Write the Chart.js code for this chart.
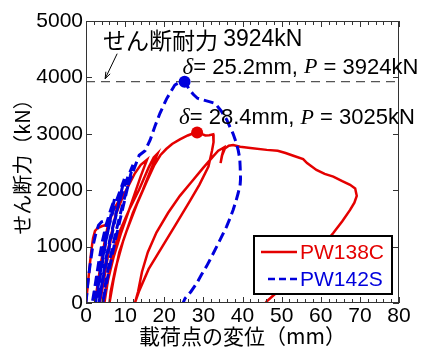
<!DOCTYPE html>
<html>
<head>
<meta charset="utf-8">
<script src="https://cdn.jsdelivr.net/npm/chart.js@4.4.1/dist/chart.umd.min.js"></script>
<style>
  html, body { margin: 0; padding: 0; background: #fff; }
  #wrap { width: 422px; height: 347px; }
</style>
</head>
<body>
<div id="wrap"><canvas id="shear-chart" width="422" height="347"></canvas></div>
<script>
// PW138C (solid red) - displacement mm / load kN
const pw138cX = [0, 0.5, 1.0, 1.4, 1.8, 2.3, 3.0, 4.0, 4.9, 5.8,
  4.8, 3.8, 2.8, 2.3,
  3.0, 3.8, 4.8, 5.8, 7.0, 8.3,
  7.2, 6.0, 4.8, 3.8, 3.5,
  4.2, 5.2, 6.4, 7.8, 9.5, 11.0, 12.5, 14.0, 15.6,
  14.0, 11.5, 9.0, 7.0, 5.6, 4.7,
  5.2, 6.5, 8.5, 11.0, 13.5, 16.0, 17.3, 18.3,
  16.5, 14.5, 12.0, 9.5, 7.5, 6.3, 6.0,
  7.0, 8.5, 10.5, 13.0, 15.5, 17.5, 19.0, 20.5, 22.0, 24.0, 26.0, 27.5, 28.4, 29.5, 30.5, 31.5, 32.5,
  32.6, 32.2, 31.3,
  29.0, 26.5, 23.0, 19.5, 16.0, 13.5, 12.5,
  13.3, 14.3, 15.8, 18.0, 21.0, 24.0, 27.0, 30.0, 32.5, 33.8, 34.8, 35.3,
  34.7, 34.4, 34.8, 35.5, 36.5, 37.6,
  39.4, 42.0, 46.2, 49.0, 51.0, 53.0, 55.5, 56.5, 58.9, 61.0, 63.2, 65.5, 67.5, 68.8, 69.2,
  68.6, 67.5, 65.5, 63.2, 61.0, 58.9, 56.5, 54.7, 52.5, 50.4, 48.3, 46.2, 45.3];
const pw138cY = [0, 350, 700, 950, 1150, 1280, 1330, 1360, 1380, 1450,
  1100, 700, 250, 0,
  300, 700, 1100, 1400, 1650, 1800,
  1450, 1000, 500, 100, 0,
  350, 800, 1200, 1600, 1900, 2100, 2300, 2450, 2540,
  2250, 1750, 1250, 800, 400, 0,
  300, 800, 1250, 1650, 2000, 2400, 2580, 2650,
  2350, 2000, 1600, 1100, 600, 200, 0,
  400, 900, 1300, 1750, 2150, 2450, 2620, 2730, 2820, 2900, 2970, 3010, 3025, 3000, 2970, 2975, 2990,
  2850, 2700, 2420,
  2100, 1800, 1400, 1000, 600, 200, 0,
  200, 550, 900, 1250, 1600, 1900, 2150, 2400, 2600, 2700, 2740, 2760,
  2600, 2480, 2620, 2740, 2790, 2800,
  2770, 2750, 2715, 2700, 2660, 2610, 2550, 2480, 2360, 2290, 2240, 2160, 2095, 2030, 1900,
  1780, 1650, 1450, 1240, 1060, 880, 720, 590, 440, 295, 160, 30, -60];

// PW142S (dashed blue)
const pw142sX = [0, 0.4, 0.9, 1.6, 2.4, 3.2, 4.0, 5.0, 5.8,
  4.8, 3.6, 2.4, 1.6,
  2.3, 3.2, 4.2, 5.2, 6.3, 7.3,
  6.2, 5.0, 3.8, 2.8, 2.4,
  3.0, 3.9, 4.9, 6.0, 7.2, 8.5, 9.8,
  8.6, 7.2, 5.8, 4.4, 3.3,
  4.0, 5.0, 6.2, 7.5, 9.0, 10.5, 12.0,
  10.8, 9.3, 7.6, 5.8, 4.3,
  5.0, 6.2, 7.6, 9.2, 10.8, 12.4, 13.6, 15.1, 16.4, 17.6, 18.9, 20.6, 22.7, 24.0, 25.2,
  26.3, 27.4, 28.5, 30.0, 31.5, 33.0, 34.6, 36.0, 36.8, 37.6, 38.3, 38.9, 39.3, 39.4, 39.5, 39.4,
  38.9, 38.3, 37.6, 36.8, 35.9, 34.7, 33.4, 32.1, 30.8, 29.5, 28.3, 26.8, 25.3, 24.8];
const pw142sY = [0, 300, 600, 950, 1200, 1380, 1440, 1460, 1500,
  1150, 700, 250, 0,
  300, 700, 1100, 1400, 1650, 1850,
  1500, 1050, 550, 100, 0,
  250, 650, 1050, 1400, 1700, 1950, 2200,
  1850, 1400, 950, 450, 0,
  300, 750, 1150, 1550, 1900, 2200, 2450,
  2100, 1650, 1150, 550, 0,
  350, 800, 1250, 1700, 2100, 2400, 2620, 2700, 2890, 3130, 3364, 3620, 3865, 3915, 3924,
  3800, 3700, 3630, 3600, 3570, 3540, 3400, 3245, 3120, 3000, 2860, 2710, 2560, 2420, 2200, 2100,
  1950, 1800, 1650, 1500, 1350, 1180, 1000, 820, 650, 500, 350, 200, 80, 0];

// shear capacity and peak points
const shearCapacity = 3924;
const peakX = [25.2, 28.4];
const peakY = [3924, 3025];
const seriesNames = ['PW138C', 'PW142S'];
const xTickValues = [0, 10, 20, 30, 40, 50, 60, 70, 80];
const yTickValues = [0, 1000, 2000, 3000, 4000, 5000];

const RED = 'rgb(228, 0, 0)';
const BLUE = 'rgb(0, 0, 220)';
const SANS = '"Liberation Sans", Arial, sans-serif';
const SERIF = '"Liberation Serif", "Times New Roman", serif';
const JP = '"Noto Sans CJK JP", sans-serif';

function toPoints(xs, ys) {
    return xs.map((x, i) => ({ x: x, y: ys[i] }));
}

function drawRuns(ctx, runs, x, y) {
    runs.forEach(r => {
        ctx.font = r.font;
        ctx.fillText(r.text, x, y);
        x += ctx.measureText(r.text).width;
    });
}

const framePlugin = {
    id: 'frameAndNotes',
    afterDraw(chart) {
        const ctx = chart.ctx;
        const xs = chart.scales.x;
        const ys = chart.scales.y;
        const {left, right, top, bottom} = chart.chartArea;

        ctx.save();
        // frame
        ctx.strokeStyle = '#333';
        ctx.lineWidth = 1;
        ctx.strokeRect(left + 0.5, top + 0.5, right - left - 1, bottom - top - 1);

        // inside ticks
        ctx.beginPath();
        for (let v = 0; v <= 80; v += 2) {
            const px = Math.round(xs.getPixelForValue(v)) + 0.5;
            const len = v % 10 === 0 ? 6 : 4;
            ctx.moveTo(px, bottom); ctx.lineTo(px, bottom - len);
            ctx.moveTo(px, top); ctx.lineTo(px, top + len);
        }
        yTickValues.forEach(v => {
            const py = Math.round(ys.getPixelForValue(v)) + 0.5;
            ctx.moveTo(left, py); ctx.lineTo(left + 6, py);
            ctx.moveTo(right, py); ctx.lineTo(right - 6, py);
        });
        ctx.stroke();

        // arrow to the capacity line
        const tipX = xs.getPixelForValue(4.9), tipY = ys.getPixelForValue(shearCapacity) - 3;
        const tailX = tipX + 12, tailY = tipY - 25;
        ctx.strokeStyle = '#000';
        ctx.lineWidth = 1;
        ctx.beginPath();
        ctx.moveTo(tailX, tailY); ctx.lineTo(tipX, tipY);
        ctx.stroke();
        const ang = Math.atan2(tipY - tailY, tipX - tailX);
        ctx.beginPath();
        ctx.moveTo(tipX, tipY);
        ctx.lineTo(tipX - 7 * Math.cos(ang - 0.35), tipY - 7 * Math.sin(ang - 0.35));
        ctx.moveTo(tipX, tipY);
        ctx.lineTo(tipX - 7 * Math.cos(ang + 0.35), tipY - 7 * Math.sin(ang + 0.35));
        ctx.stroke();

        // texts
        ctx.fillStyle = '#000';
        ctx.textBaseline = 'middle';
        ctx.textAlign = 'left';
        drawRuns(ctx, [
            { text: 'せん断耐力 ', font: '23px ' + JP },
            { text: shearCapacity + 'kN', font: '23px ' + SANS }
        ], 103, 40);

        const bx = xs.getPixelForValue(peakX[0]), by = ys.getPixelForValue(peakY[0]);
        drawRuns(ctx, [
            { text: 'δ', font: 'italic 23px ' + SERIF },
            { text: '= ' + peakX[0].toFixed(1) + 'mm, ', font: '22px ' + SANS },
            { text: 'P', font: 'italic 22px ' + SERIF },
            { text: ' = ' + peakY[0] + 'kN', font: '22px ' + SANS }
        ], bx - 2, by - 14);

        const rx = xs.getPixelForValue(peakX[1]), ry = ys.getPixelForValue(peakY[1]);
        drawRuns(ctx, [
            { text: 'δ', font: 'italic 23px ' + SERIF },
            { text: '= ' + peakX[1].toFixed(1) + 'mm, ', font: '22px ' + SANS },
            { text: 'P', font: 'italic 22px ' + SERIF },
            { text: ' = ' + peakY[1] + 'kN', font: '22px ' + SANS }
        ], rx - 18, ry - 14);

        // legend box
        const lx = 254, ly = 236, lw = 138, lh = 58;
        ctx.fillStyle = '#fff';
        ctx.fillRect(lx, ly, lw, lh);
        ctx.strokeStyle = '#000';
        ctx.lineWidth = 2;
        ctx.strokeRect(lx, ly, lw, lh);

        ctx.lineWidth = 2.5;
        ctx.strokeStyle = RED;
        ctx.beginPath(); ctx.moveTo(261, 252); ctx.lineTo(297, 252); ctx.stroke();
        ctx.strokeStyle = BLUE;
        ctx.setLineDash([7, 4]);
        ctx.beginPath(); ctx.moveTo(268, 279); ctx.lineTo(298, 279); ctx.stroke();
        ctx.setLineDash([]);

        ctx.font = '21px ' + SANS;
        ctx.fillStyle = RED;
        ctx.fillText(seriesNames[0], 300, 253);
        ctx.fillStyle = BLUE;
        ctx.fillText(seriesNames[1], 300, 280);
        ctx.restore();
    }
};

const config = {
    type: 'line',
    data: {
        datasets: [
            {
                label: 'peaks',
                type: 'scatter',
                data: toPoints(peakX, peakY),
                pointRadius: 6,
                pointBackgroundColor: [BLUE, RED],
                pointBorderWidth: 0,
                showLine: false,
                order: 0
            },
            {
                label: seriesNames[1],
                data: toPoints(pw142sX, pw142sY),
                borderColor: BLUE,
                borderWidth: 3,
                borderDash: [10, 5],
                pointRadius: 0,
                fill: false,
                tension: 0,
                order: 1
            },
            {
                label: seriesNames[0],
                data: toPoints(pw138cX, pw138cY),
                borderColor: RED,
                borderWidth: 2.5,
                pointRadius: 0,
                fill: false,
                tension: 0,
                order: 2
            },
            {
                label: 'capacity',
                data: [{ x: 0, y: shearCapacity }, { x: 80, y: shearCapacity }],
                borderColor: '#555',
                borderWidth: 1.3,
                borderDash: [9, 6],
                pointRadius: 0,
                fill: false,
                order: 3
            }
        ]
    },
    options: {
        responsive: false,
        devicePixelRatio: 1,
        animation: false,
        layout: { padding: { left: 0, right: 23, top: 21, bottom: 0 } },
        plugins: {
            legend: { display: false },
            tooltip: { enabled: false }
        },
        scales: {
            x: {
                type: 'linear',
                min: 0,
                max: 80,
                afterFit: s => { s.height = 44; },
                afterBuildTicks: s => { s.ticks = xTickValues.map(v => ({ value: v })); },
                grid: { display: false, drawTicks: false },
                border: { display: false },
                ticks: {
                    color: '#000',
                    padding: 1,
                    maxRotation: 0,
                    callback: v => String(v),
                    font: { family: SANS, size: 21 }
                },
                title: {
                    display: true,
                    text: '載荷点の変位（mm）',
                    color: '#000',
                    padding: { top: 0, bottom: 0 },
                    font: { family: JP, size: 21, lineHeight: 1 }
                }
            },
            y: {
                type: 'linear',
                min: 0,
                max: 5000,
                afterFit: s => { s.width = 86; },
                afterBuildTicks: s => { s.ticks = yTickValues.map(v => ({ value: v })); },
                grid: { display: false, drawTicks: false },
                border: { display: false },
                ticks: {
                    color: '#000',
                    padding: 3,
                    callback: v => String(v),
                    font: { family: SANS, size: 21 }
                },
                title: {
                    display: true,
                    text: 'せん断力（kN）',
                    color: '#000',
                    padding: { top: 12, bottom: 0 },
                    font: { family: JP, size: 20, lineHeight: 1 }
                }
            }
        }
    },
    plugins: [framePlugin]
};

new Chart(document.getElementById('shear-chart'), config);
</script>
</body>
</html>
